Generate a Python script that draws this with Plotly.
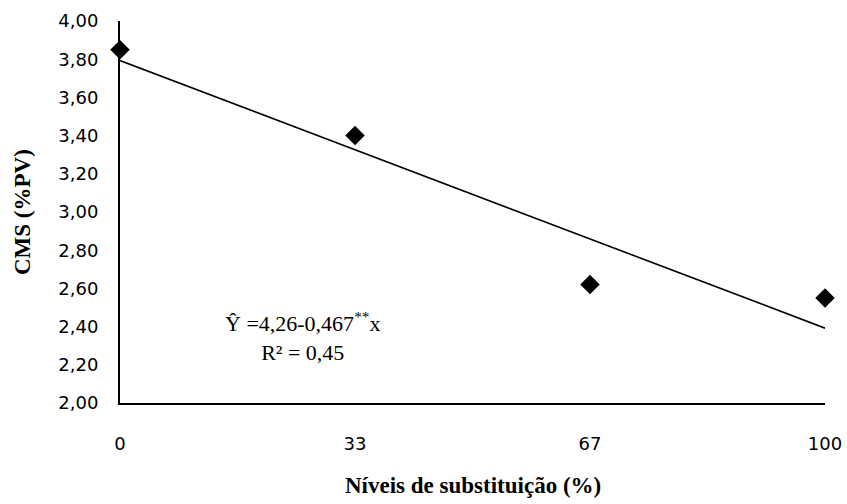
import plotly.graph_objects as go

# Substitution levels (%) and dry matter intake (% body weight)
levels = ["0", "33", "67", "100"]
cms = [3.85, 3.40, 2.62, 2.55]

# Fitted linear regression, x = level index 1..4
intercept = 4.26
slope = -0.467
r2_text = "0,45"

pos = list(range(len(levels)))
fit = [intercept + slope * (i + 1) for i in pos]

fig = go.Figure()
fig.add_trace(go.Scatter(
    x=pos, y=fit, mode="lines",
    line=dict(color="black", width=1.6),
    hoverinfo="skip", showlegend=False,
))
fig.add_trace(go.Scatter(
    x=pos, y=cms, mode="markers",
    marker=dict(symbol="diamond", size=15, color="black"),
    cliponaxis=False, showlegend=False,
))

tick_font = dict(family="DejaVu Sans", size=18, color="black")
title_font = dict(family="Liberation Serif", size=23, color="black")

fig.update_layout(
    width=847, height=504,
    margin=dict(l=120, r=22, t=21, b=101),
    paper_bgcolor="white", plot_bgcolor="white",
    separators=",.",
    showlegend=False,
    xaxis=dict(
        range=[0, 3], tickvals=pos, ticktext=levels,
        showgrid=False, zeroline=False, automargin=False,
        showline=True, linecolor="black", linewidth=2,
        ticks="", tickfont=tick_font, ticklabelstandoff=23,
    ),
    yaxis=dict(
        range=[2, 4], dtick=0.2, tick0=2, tickformat=".2f",
        showgrid=False, zeroline=False, automargin=False,
        showline=True, linecolor="black", linewidth=2,
        ticks="", tickfont=tick_font, ticklabelstandoff=16,
    ),
    annotations=[
        dict(
            text="<b>Níveis de substituição (%)</b>",
            xref="paper", yref="paper", x=0.5, y=-0.2147,
            xanchor="center", yanchor="middle", showarrow=False,
            font=title_font,
        ),
        dict(
            text="<b>CMS (%PV)</b>",
            xref="paper", yref="paper", x=-0.139, y=0.5,
            xanchor="center", yanchor="middle", showarrow=False,
            textangle=-90, font=title_font,
        ),
        dict(
            text=f"Ŷ =4,26-0,467<sup>**</sup>x<br>R² = {r2_text}",
            xref="x", yref="y", x=0.78, y=2.35,
            xanchor="center", yanchor="middle", showarrow=False,
            align="center",
            font=dict(family="Liberation Serif", size=22, color="black"),
        ),
    ],
)

fig.write_html("out.html")
